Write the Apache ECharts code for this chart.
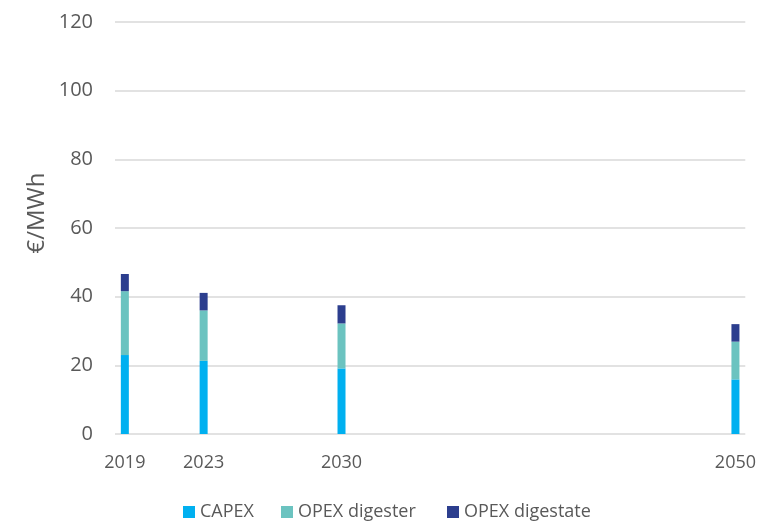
<!DOCTYPE html>
<html>
<head>
<meta charset="utf-8">
<script src="https://cdn.jsdelivr.net/npm/echarts@6/dist/echarts.min.js"></script>
<style>
  html, body { margin: 0; padding: 0; background: #ffffff; }
  #chart { width: 759px; height: 523px; }
</style>
</head>
<body>
<div id="chart"></div>
<script>
// Cost breakdown per year, €/MWh
const years = [2019, 2023, 2030, 2050];
const capex = [23.0, 21.3, 19.1, 15.9];
const opexDigester = [18.6, 14.7, 13.1, 11.0];
const opexDigestate = [5.0, 5.1, 5.3, 5.1];
const yTicks = [0, 20, 40, 60, 80, 100, 120];

const seriesNames = ['CAPEX', 'OPEX digester', 'OPEX digestate'];
const seriesColors = ['#00B0F0', '#6BC3C0', '#2C3E8E'];
const seriesValues = [capex, opexDigester, opexDigestate];
const legendLefts = [183, 281, 447];

// One category slot per calendar year so the bars sit on a proportional time scale
const firstYear = years[0];
const lastYear = years[years.length - 1];
const yearSlots = [];
for (let y = firstYear; y <= lastYear; y++) yearSlots.push(String(y));

function toSlots(values) {
  return yearSlots.map(s => {
    const idx = years.indexOf(Number(s));
    return idx >= 0 ? values[idx] : '-';
  });
}

const textColor = '#595959';
const fontFamily = '"Open Sans", sans-serif';

const chart = echarts.init(document.getElementById('chart'), null, { renderer: 'canvas' });

chart.setOption({
  animation: false,
  backgroundColor: '#ffffff',
  textStyle: { fontFamily: fontFamily, color: textColor },
  grid: { left: 115, right: 12, top: 22, bottom: 89, containLabel: false },
  graphic: [{
    type: 'text',
    x: 37,
    y: 213,
    rotation: Math.PI / 2,
    style: {
      text: '€/MWh',
      fill: textColor,
      font: '24px "Open Sans", sans-serif',
      align: 'center',
      verticalAlign: 'middle'
    }
  }],
  // one legend entry per block so each item keeps its own position
  legend: seriesNames.map((name, i) => ({
    left: legendLefts[i],
    top: 503,
    padding: 0,
    itemWidth: 12,
    itemHeight: 12,
    icon: 'rect',
    textStyle: { fontFamily: fontFamily, fontSize: 18, color: textColor },
    data: [name]
  })),
  xAxis: {
    type: 'category',
    data: yearSlots,
    boundaryGap: true,
    axisLine: { show: false },
    axisTick: { show: false },
    splitLine: { show: false },
    axisLabel: {
      interval: (i, v) => years.indexOf(Number(v)) >= 0,
      fontFamily: fontFamily,
      fontSize: 18,
      color: textColor,
      margin: 20
    }
  },
  yAxis: {
    type: 'value',
    min: yTicks[0],
    max: yTicks[yTicks.length - 1],
    interval: 20,
    axisLine: { show: false },
    axisTick: { show: false },
    splitLine: { lineStyle: { color: '#d9d9d9', width: 1.5 } },
    axisLabel: { fontFamily: fontFamily, fontSize: 20, color: textColor, margin: 22 }
  },
  series: seriesNames.map((name, i) => ({
    name: name,
    type: 'bar',
    stack: 'cost',
    barWidth: 8,
    itemStyle: { color: seriesColors[i] },
    data: toSlots(seriesValues[i])
  }))
});
</script>
</body>
</html>
